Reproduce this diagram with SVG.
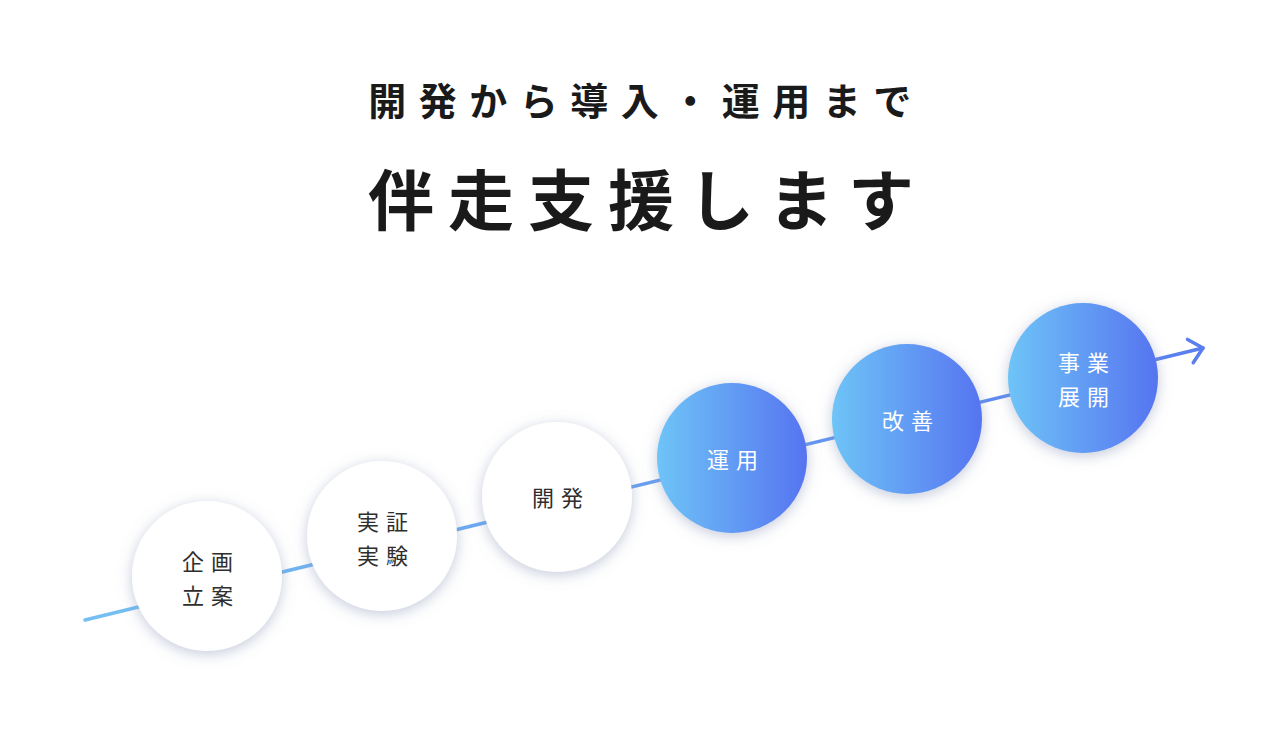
<svg xmlns="http://www.w3.org/2000/svg" width="1280" height="736" viewBox="0 0 1280 736">
<style>
.t1{font-family:"Noto Sans CJK JP","Noto Sans",sans-serif;font-weight:700;fill:#1a1a1a;text-anchor:middle}
.lbl{font-family:"Noto Sans CJK JP","Noto Sans",sans-serif;font-weight:400;font-size:22px;letter-spacing:7px;text-anchor:middle}
.dark{fill:#2e2e2e}
.light{fill:#ffffff}
.wc{fill:#ffffff;filter:url(#sh)}
.bc{fill:url(#bg);filter:url(#sh)}
</style>
<defs>
<linearGradient id="lg" x1="85" y1="0" x2="1205" y2="0" gradientUnits="userSpaceOnUse">
<stop offset="0" stop-color="#74c0f2"/>
<stop offset="1" stop-color="#5a7ef0"/>
</linearGradient>
<linearGradient id="bg" x1="0" y1="0" x2="1" y2="0">
<stop offset="0" stop-color="#6ec4f7"/>
<stop offset="1" stop-color="#5674f0"/>
</linearGradient>
<filter id="sh" x="-30%" y="-30%" width="160%" height="160%">
<feDropShadow dx="0" dy="3" stdDeviation="7" flood-color="#8a96b8" flood-opacity="0.5"/>
</filter>
<marker id="ah" markerWidth="26" markerHeight="30" viewBox="0 0 26 30" refX="20" refY="15" orient="auto" markerUnits="userSpaceOnUse">
<path d="M7 3 L20 15 L7 27" fill="none" stroke="#5a7ef0" stroke-width="3.5" stroke-linecap="round" stroke-linejoin="round"/>
</marker>
</defs>
<rect width="1280" height="736" fill="#ffffff"/>
<g id="title">
<text class="t1" x="646" y="115" font-size="38" letter-spacing="12.5">開発から導入・運用まで</text>
<text class="t1" x="648" y="225" font-size="66" letter-spacing="14">伴走支援します</text>
</g>
<g id="connectors">
<line x1="85" y1="620" x2="1203" y2="348" stroke="url(#lg)" stroke-width="3.5" stroke-linecap="round" marker-end="url(#ah)"/>
</g>
<g id="n1">
<circle class="wc" cx="207" cy="576" r="75"/>
<text class="lbl dark" x="211" y="570">企画</text>
<text class="lbl dark" x="211" y="604">立案</text>
</g>
<g id="n2">
<circle class="wc" cx="382" cy="536" r="75"/>
<text class="lbl dark" x="386" y="530">実証</text>
<text class="lbl dark" x="386" y="564">実験</text>
</g>
<g id="n3">
<circle class="wc" cx="557" cy="497" r="75"/>
<text class="lbl dark" x="561" y="506">開発</text>
</g>
<g id="n4">
<circle class="bc" cx="732" cy="458" r="75"/>
<text class="lbl light" x="736" y="468">運用</text>
</g>
<g id="n5">
<circle class="bc" cx="907" cy="419" r="75"/>
<text class="lbl light" x="911" y="429">改善</text>
</g>
<g id="n6">
<circle class="bc" cx="1083" cy="378" r="75"/>
<text class="lbl light" x="1087" y="371">事業</text>
<text class="lbl light" x="1087" y="405">展開</text>
</g>
</svg>
